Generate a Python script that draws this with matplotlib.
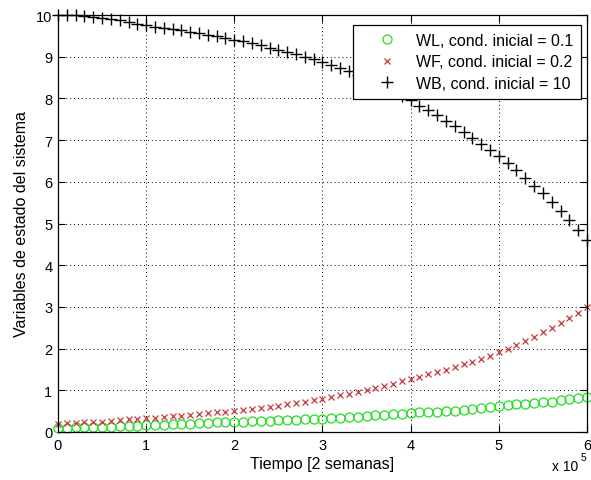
import numpy as np
import matplotlib
matplotlib.use("Agg")
import matplotlib.pyplot as plt
from matplotlib.ticker import FuncFormatter, MultipleLocator

plt.rcParams["font.family"] = ["Liberation Sans", "DejaVu Sans"]

# time in units of 2 weeks (0 .. 6e5), 61 samples
tiempo = np.arange(61) * 1e4

wl = [0.10, 0.10, 0.11, 0.11, 0.12, 0.12, 0.13, 0.14, 0.14, 0.15, 0.16,
      0.17, 0.17, 0.18, 0.19, 0.20, 0.21, 0.22, 0.23, 0.24, 0.25,
      0.25, 0.26, 0.27, 0.27, 0.28, 0.29, 0.29, 0.30, 0.30, 0.31,
      0.33, 0.34, 0.35, 0.37, 0.38, 0.40, 0.41, 0.43, 0.44, 0.46,
      0.47, 0.48, 0.49, 0.50, 0.51, 0.53, 0.55, 0.57, 0.60, 0.62,
      0.64, 0.66, 0.68, 0.69, 0.71, 0.73, 0.76, 0.78, 0.81, 0.83]

wf = [0.20, 0.21, 0.22, 0.23, 0.24, 0.25, 0.27, 0.28, 0.30, 0.31, 0.33,
      0.34, 0.36, 0.38, 0.39, 0.41, 0.43, 0.45, 0.47, 0.49, 0.51,
      0.53, 0.55, 0.58, 0.60, 0.63, 0.66, 0.69, 0.72, 0.76, 0.80,
      0.84, 0.88, 0.92, 0.96, 1.01, 1.06, 1.11, 1.16, 1.22, 1.28,
      1.33, 1.38, 1.44, 1.49, 1.55, 1.62, 1.69, 1.76, 1.83, 1.91,
      1.99, 2.08, 2.18, 2.28, 2.39, 2.50, 2.61, 2.73, 2.86, 2.99]

wb = [10.00, 10.00, 9.99, 9.98, 9.96, 9.93, 9.90, 9.87, 9.83, 9.79, 9.75,
      9.72, 9.69, 9.66, 9.63, 9.60, 9.57, 9.53, 9.49, 9.45, 9.41,
      9.37, 9.32, 9.27, 9.22, 9.17, 9.11, 9.06, 9.00, 8.94, 8.88,
      8.81, 8.73, 8.65, 8.56, 8.46, 8.37, 8.27, 8.17, 8.06, 7.95,
      7.83, 7.72, 7.60, 7.47, 7.33, 7.19, 7.05, 6.91, 6.77, 6.62,
      6.45, 6.28, 6.10, 5.91, 5.72, 5.52, 5.30, 5.08, 4.85, 4.60]

labels = ["WL, cond. inicial = 0.1",
          "WF, cond. inicial = 0.2",
          "WB, cond. inicial = 10"]

fig = plt.figure(figsize=(5.91, 4.81), dpi=100)
ax = fig.add_axes([0.0981, 0.0998, 0.8951, 0.8669])

ax.plot(tiempo, wl, "o", color="#22dd22", mfc="none", ms=6.5, mew=0.9,
        clip_on=False, label=labels[0])
ax.plot(tiempo, wf, "x", color="#c83838", ms=4.5, mew=0.9,
        clip_on=False, label=labels[1])
ax.plot(tiempo, wb, "+", color="black", ms=8, mew=1.0,
        clip_on=False, label=labels[2])

ax.set_xlim(0, 6e5)
ax.set_ylim(0, 10)
ax.xaxis.set_major_locator(MultipleLocator(1e5))
ax.yaxis.set_major_locator(MultipleLocator(1))
ax.xaxis.set_major_formatter(FuncFormatter(lambda v, p: f"{v / 1e5:g}"))

ax.grid(True, color="black", linestyle=(0, (1, 3)), linewidth=0.7)
ax.tick_params(direction="in", length=5, width=0.8, labelsize=10.5,
               top=True, right=True, pad=4)
for s in ax.spines.values():
    s.set_linewidth(0.9)

ax.set_xlabel("Tiempo [2 semanas]", fontsize=11.5, labelpad=3)
ax.set_ylabel("Variables de estado del sistema", fontsize=11.5, labelpad=5)

fig.text(0.934, 0.020, "x 10", fontsize=10)
fig.text(0.982, 0.042, "5", fontsize=7.5)

leg = ax.legend(loc="upper right", bbox_to_anchor=(0.989, 0.976),
                borderaxespad=0, fontsize=11.5, fancybox=False,
                framealpha=1, edgecolor="black", handlelength=3.25,
                handletextpad=0.2, labelspacing=0.4, borderpad=0.5)
leg.get_frame().set_linewidth(0.9)

fig.savefig("out.png", dpi=100)
